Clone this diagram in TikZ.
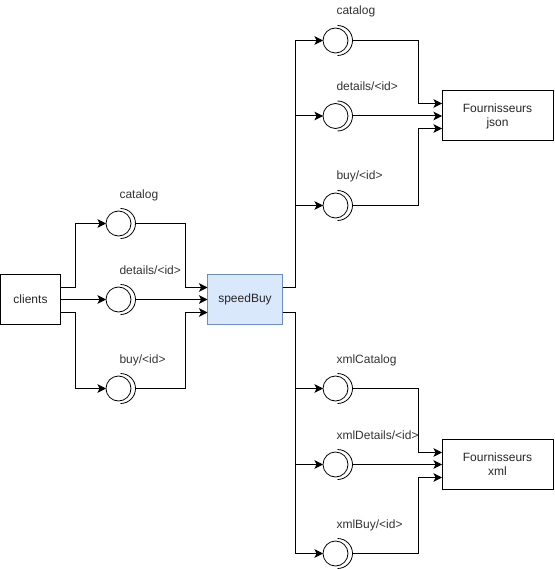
\documentclass[tikz,border=0pt]{standalone}
\usepackage{fontspec}
\setmainfont{Liberation Sans}
\usetikzlibrary{arrows.meta,calc}
\definecolor{sbfill}{HTML}{DAE8FC}
\definecolor{sbdraw}{HTML}{6C8EBF}
\tikzset{
  x=1pt,y=-1pt,
  every node/.style={font=\fontsize{12}{14}\selectfont,text=black!80,inner sep=0pt,outer sep=0pt},
  box/.style={draw=black,line width=1pt,rectangle,minimum width=#1,minimum height=50pt,align=center,text=black!85},
  port/.style={draw=black,line width=0.8pt,circle,minimum size=25pt},
  lab/.style={anchor=base west},
  conn/.style={draw=black,line width=1pt,-{Stealth[length=8.5pt,width=8.5pt,inset=2pt]}},
  plain/.style={draw=black,line width=0.8pt}
}
% name, x of circle centre, y, label
\newcommand{\lolli}[4]{%
  \node[port] (#1) at (#2,#3) {};
  \coordinate (#1o) at ($(#1.center)+(17pt,0pt)$);
  \draw[plain] ($(#1.center)+(2pt,-15pt)$) arc[start angle=-90,end angle=90,radius=15pt];
  \node[lab] (#1l) at ($(#1.center)+(1pt,25.5pt)$) {#4};
}
\begin{document}
\begin{tikzpicture}
\useasboundingbox (0,0) rectangle (554,569);
\node[box=60pt] (clients) at (30.5,299.5) {clients};
\node[box=75pt,draw=sbdraw,fill=sbfill] (speed) at (245,299.5) {speedBuy};
\node[box=111pt] (fj) at (497.5,116) {Fournisseurs\\json};
\node[box=111pt] (fx) at (497.5,464.5) {Fournisseurs\\xml};

\lolli{a}{118.5}{223.5}{catalog}
\lolli{b}{118.5}{299.5}{details/<id>}
\lolli{c}{118.5}{388.5}{buy/<id>}
\lolli{d}{335.5}{40.5}{catalog}
\lolli{e}{335.5}{116}{details/<id>}
\lolli{f}{335.5}{205.5}{buy/<id>}
\lolli{g}{335.5}{388.5}{xmlCatalog}
\lolli{h}{335.5}{464.5}{xmlDetails/<id>}
\lolli{i}{335.5}{553.5}{xmlBuy/<id>}

% clients to ports
\draw[conn] ([yshift=12pt]clients.east) -- ++(15,0) |- (a.west);
\draw[conn] (clients.east) -- (b.west);
\draw[conn] ([yshift=-13pt]clients.east) -- ++(15,0) |- (c.west);
% ports to speedBuy
\draw[conn] (ao) -- ++(50,0) |- ([yshift=12pt]speed.west);
\draw[conn] (bo) -- (speed.west);
\draw[conn] (co) -- ++(50,0) |- ([yshift=-13pt]speed.west);
% speedBuy to supplier ports
\draw[conn] ([yshift=12pt]speed.east) -- ++(13,0) |- (d.west);
\draw[conn] ([yshift=12pt]speed.east) -- ++(13,0) |- (e.west);
\draw[conn] ([yshift=12pt]speed.east) -- ++(13,0) |- (f.west);
\draw[conn] ([yshift=-13pt]speed.east) -- ++(13,0) |- (g.west);
\draw[conn] ([yshift=-13pt]speed.east) -- ++(13,0) |- (h.west);
\draw[conn] ([yshift=-13pt]speed.east) -- ++(13,0) |- (i.west);
% supplier ports to suppliers
\draw[conn] (do) -- ++(65.5,0) |- ([yshift=12.5pt]fj.west);
\draw[conn] (eo) -- (fj.west);
\draw[conn] (fo) -- ++(65.5,0) |- ([yshift=-12.5pt]fj.west);
\draw[conn] (go) -- ++(65.5,0) |- ([yshift=12pt]fx.west);
\draw[conn] (ho) -- (fx.west);
\draw[conn] (io) -- ++(65.5,0) |- ([yshift=-13pt]fx.west);
\end{tikzpicture}
\end{document}
